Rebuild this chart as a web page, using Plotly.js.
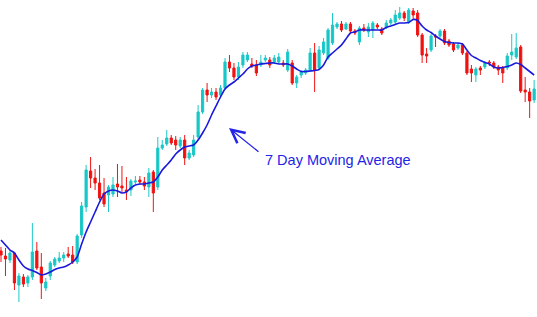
<!DOCTYPE html>
<html>
<head>
<meta charset="utf-8">
<script src="https://cdn.plot.ly/plotly-3.0.1.min.js"></script>
<style>html,body{margin:0;padding:0;background:#fff}#chart{width:537px;height:317px}</style>
</head>
<body>
<div id="chart"></div>
<script>
// Daily OHLC prices (arbitrary price units)
const openP = [66,61,57,64,32,40,34,40,66,50, 29,41,52,56,59,63,62,55,82,110,
  146,139,134,124,122,123,133,131,127,127, 135,137,135,130,145,130,169,173,179,177,
  171,177,159,162,180,205,227,222,225,222, 229,255,249,240,252,257,253,252,252,257,
  257,255,255,254,247,254,234,242,244,247, 264,249,264,259,274,290,293,288,293,286,
  275,289,285,287,292,288,290,294,295,299, 304,295,306,304,282,263,267,281,281,286,
  276,273,269,272,264,248,242,249,250,255, 254,250,249,249,262,260,270,227,225,217];
const closeP = [62,58,64,34,41,33,40,65,49,34, 35,54,58,59,62,61,55,81,111,147,
  139,134,119,113,130,132,130,129,125,136, 136,135,131,144,124,169,172,179,174,172,
  177,159,164,177,205,227,222,225,220,229, 255,249,240,250,262,262,251,244,255,259,
  252,259,260,252,265,234,240,245,247,264, 247,267,275,287,292,293,287,293,286,284,
  289,287,290,294,290,284,294,297,302,304, 299,307,302,282,262,261,281,280,286,274,
  272,267,272,264,244,244,248,247,254,254, 250,247,244,261,265,269,226,225,216,228];
const highP = [70,69,67,65,44,43,42,94,75,64, 39,56,60,65,65,70,71,83,115,152,
  160,148,152,139,132,140,153,151,140,138, 141,141,140,149,147,180,177,187,182,181,
  180,182,167,182,212,229,234,229,229,232, 259,262,254,255,265,265,259,257,262,262,
  260,262,264,257,268,257,242,247,249,269, 274,271,279,289,304,295,296,295,295,288,
  291,293,294,296,294,290,297,299,307,310, 306,309,309,307,284,269,283,283,288,288,
  278,275,274,274,266,252,250,251,256,257, 256,252,251,264,283,284,272,240,229,237];
const lowP = [55,41,54,27,15,30,30,37,47,18, 26,37,50,54,55,59,53,53,79,105,
  129,127,117,110,105,120,120,124,117,121, 133,132,127,120,105,127,167,171,172,167,
  169,152,157,160,177,203,215,219,217,219, 227,245,237,237,249,255,249,241,250,255,
  249,253,253,250,245,232,229,239,242,245, 225,247,262,257,272,288,285,287,284,282,
  272,285,280,279,288,282,288,292,293,297, 296,293,297,280,254,254,265,270,279,272,
  270,265,267,262,242,235,235,242,248,251, 248,242,234,247,257,258,224,215,199,214];
// 7 day moving average as drawn in the reference
const ma7 = [77,72,67,64,57,51,48,46.5,44.5,42, 43,45,47.5,49,50,52,55,60,73,85,
  95,105,115,123,126,127,126,124,125,129, 132,133,133,134,135,140,147,152,157,163,
  167,170,171,172,177,184,192,202,211,220, 228,232,235,239,243,248,251,252,253,253.5,
  254,254,253,253,253,251,248,245.5,245.5,246, 246.5,247.5,252,260,264,268,272,278,284,285,
  287,287,287,287,287,287,289.5,291,292.5,294, 294,294.5,297.5,296.5,291,287,284.5,281,278,275.5,
  274.5,274,274,273,267,261.5,259,256.5,254.5,253, 250,249,249.5,250.5,252,254,252.5,249,245.5,242];
const labelText = "7 Day Moving Average";

const days = openP.map((_, i) => i);

const traces = [
  {
    type: 'candlestick', x: days, open: openP, high: highP, low: lowP, close: closeP,
    increasing: {line: {color: '#1CC8C8', width: 1}, fillcolor: '#14C6C6'},
    decreasing: {line: {color: '#F01414', width: 1}, fillcolor: '#F01010'},
    whiskerwidth: 0, hoverinfo: 'skip'
  },
  {
    type: 'scatter', mode: 'lines', x: days, y: ma7,
    line: {color: '#1A1ADC', width: 1.6, shape: 'spline', smoothing: 0.6},
    hoverinfo: 'skip'
  }
];

const layout = {
  width: 537, height: 317,
  margin: {l: 0, r: 0, t: 0, b: 0},
  paper_bgcolor: '#ffffff', plot_bgcolor: '#ffffff',
  showlegend: false,
  xaxis: {visible: false, range: [-0.223, 119.64], rangeslider: {visible: false}, fixedrange: true},
  yaxis: {visible: false, range: [0, 317], fixedrange: true},
  annotations: [
    {
      xref: 'paper', yref: 'paper', x: 229/537, y: 1 - 128/317,
      text: '', showarrow: true, arrowhead: 5, arrowsize: 2, arrowwidth: 1.3,
      arrowcolor: '#2424E6', axref: 'pixel', ayref: 'pixel', ax: 31, ay: 25,
      standoff: 0, startstandoff: 0
    },
    {
      xref: 'paper', yref: 'paper', x: 263/537, y: 1 - 160/317,
      xanchor: 'left', yanchor: 'middle', showarrow: false,
      text: labelText,
      font: {family: 'Liberation Sans, Arial, sans-serif', size: 14.5, color: '#2424E6'}
    }
  ]
};

Plotly.newPlot('chart', traces, layout, {displayModeBar: false, staticPlot: true});
</script>
</body>
</html>
